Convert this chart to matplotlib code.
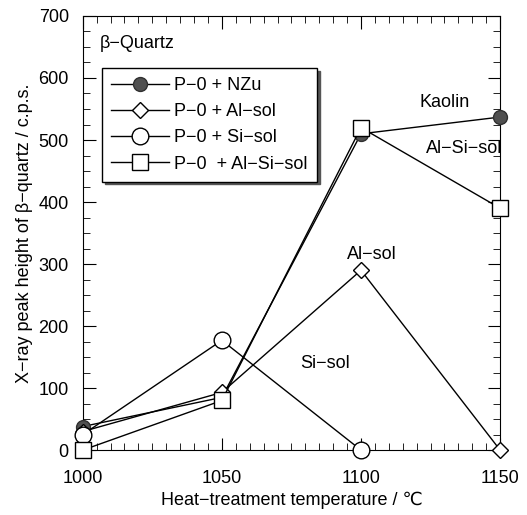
import matplotlib
matplotlib.use('Agg')
import matplotlib.pyplot as plt
from matplotlib.ticker import MultipleLocator

plt.rcParams['font.family'] = ['Liberation Sans', 'DejaVu Sans']

temps = [1000, 1050, 1100, 1150]
nzu = [38, 85, 510, 537]
al_sol = [30, 93, 290, 0]
si_temps = [1000, 1050, 1100]
si_sol = [25, 177, 0]
alsi_sol = [0, 80, 520, 390]

fig = plt.figure(figsize=(5.27, 5.15), dpi=100)
ax = fig.add_axes([0.157, 0.126, 0.792, 0.843])

ax.plot(temps, nzu, '-o', color='black', lw=1, ms=10, mfc='#505050', mec='#303030',
        label='P\u22120 + NZu', clip_on=False, zorder=3)
ax.plot(temps, al_sol, '-D', color='black', lw=1, ms=8, mfc='white', mec='black',
        label='P\u22120 + Al\u2212sol', clip_on=False, zorder=4)
ax.plot(si_temps, si_sol, '-o', color='black', lw=1, ms=12, mfc='white', mec='black',
        label='P\u22120 + Si\u2212sol', clip_on=False, zorder=5)
ax.plot(temps, alsi_sol, '-s', color='black', lw=1, ms=12, mfc='white', mec='black',
        label='P\u22120  + Al\u2212Si\u2212sol', clip_on=False, zorder=6)

ax.set_xlim(1000, 1150)
ax.set_ylim(0, 700)
ax.xaxis.set_major_locator(MultipleLocator(50))
ax.xaxis.set_minor_locator(MultipleLocator(5))
ax.yaxis.set_major_locator(MultipleLocator(100))
ax.yaxis.set_minor_locator(MultipleLocator(25))
ax.tick_params(which='both', direction='in', top=True, right=True, labelsize=13)
ax.tick_params(which='major', length=9)
ax.tick_params(which='minor', length=5)
ax.tick_params(axis='x', pad=14)
ax.tick_params(axis='y', pad=10)

ax.set_xlabel('Heat\u2212treatment temperature / \u2103', fontsize=13, labelpad=4)
ax.set_ylabel('X\u2212ray peak height of \u03b2\u2212quartz / c.p.s.', fontsize=13, labelpad=4)

ax.text(1006, 655, '\u03b2\u2212Quartz', fontsize=13, va='center')
ax.text(1130, 560, 'Kaolin', fontsize=13, ha='center', va='center')
ax.text(1137, 487, 'Al\u2212Si\u2212sol', fontsize=13, ha='center', va='center')
ax.text(1104, 315, 'Al\u2212sol', fontsize=13, ha='center', va='center')
ax.text(1087, 139, 'Si\u2212sol', fontsize=13, ha='center', va='center')

leg = ax.legend(loc='upper left', bbox_to_anchor=(0.025, 0.9), fontsize=13,
                frameon=True, fancybox=False, shadow={'color': '#555555', 'alpha': 1},
                edgecolor='black', handlelength=3.2, borderpad=0.5, labelspacing=0.5,
                handletextpad=0.3, framealpha=1)
leg.get_frame().set_linewidth(1)

fig.savefig('out.png', dpi=100)
